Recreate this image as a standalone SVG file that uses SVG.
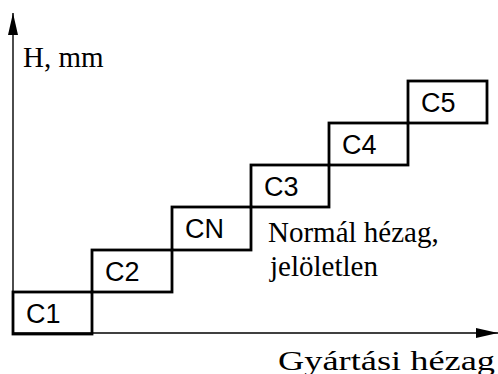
<svg xmlns="http://www.w3.org/2000/svg" width="498" height="374" viewBox="0 0 498 374">
<style>
.box{fill:none;stroke:#000;stroke-width:2.8;stroke-linejoin:miter}
.lbl{font-family:"Liberation Sans",Arial,sans-serif;font-size:27px;fill:#000}
.ser{font-family:"Liberation Serif","Times New Roman",serif;font-size:29px;fill:#000}
.axis{stroke:#000;stroke-width:1.4;fill:none}
</style>
<defs>
<marker id="ah" viewBox="0 0 22 10" refX="22" refY="5" markerWidth="22" markerHeight="10" markerUnits="userSpaceOnUse" orient="auto">
<path d="M0,0 L22,5 L0,10 Z" fill="#000"/>
</marker>
</defs>
<g id="connectors">
<line class="axis" x1="13" y1="334" x2="13" y2="13" marker-end="url(#ah)"/>
<line class="axis" x1="13" y1="333" x2="498" y2="333" marker-end="url(#ah)"/>
</g>
<g id="C1"><rect class="box" x="13" y="292" width="79" height="42"/><text class="lbl" x="26" y="323">C1</text></g>
<g id="C2"><rect class="box" x="92" y="250" width="80" height="42"/><text class="lbl" x="105" y="281">C2</text></g>
<g id="CN"><rect class="box" x="172" y="207" width="79" height="43"/><text class="lbl" x="185" y="238">CN</text></g>
<g id="C3"><rect class="box" x="251" y="165" width="78" height="42"/><text class="lbl" x="264" y="196">C3</text></g>
<g id="C4"><rect class="box" x="329" y="123" width="79" height="42"/><text class="lbl" x="342" y="154">C4</text></g>
<g id="C5"><rect class="box" x="408" y="81" width="79" height="42"/><text class="lbl" x="421" y="112">C5</text></g>
<g id="labels">
<text class="ser" x="23" y="67">H, mm</text>
<text class="ser" x="268" y="242">Normál hézag,</text>
<text class="ser" x="270" y="276">jelöletlen</text>
<text class="ser" x="278" y="370" textLength="217" lengthAdjust="spacingAndGlyphs" style="font-size:28px">Gyártási hézag</text>
</g>
</svg>
